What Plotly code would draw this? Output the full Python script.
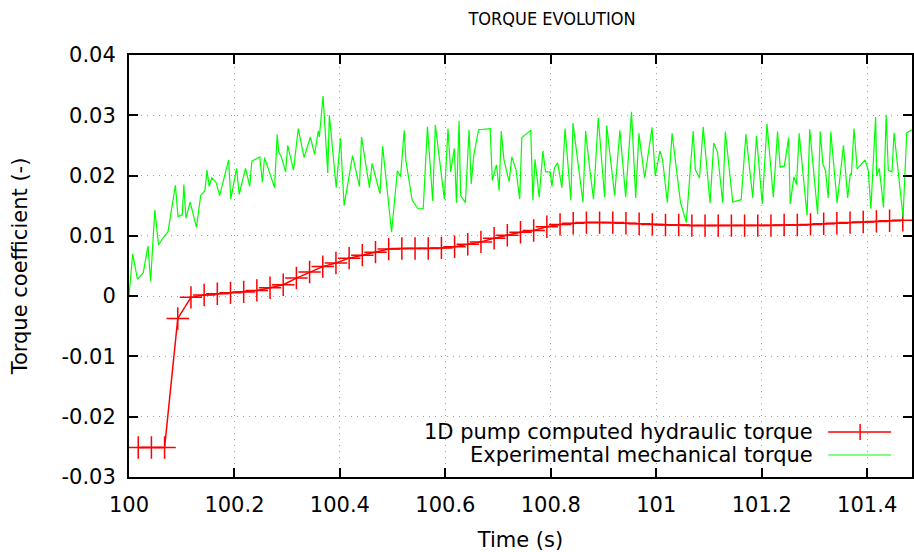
import plotly.graph_objects as go

# ---- data ----
red_t0 = 100.0175
red_step = 0.025
red_vals = [
    -0.0251, -0.0251, -0.0251, -0.0037, -0.0002, 0.0002, 0.0004, 0.00055, 0.0007, 0.00095,
    0.0014, 0.0019, 0.0030, 0.0040, 0.0049, 0.0055, 0.0063, 0.0068, 0.0073, 0.0078,
    0.0079, 0.0079, 0.0079, 0.0080, 0.0082, 0.0086, 0.0090, 0.0096, 0.0101, 0.0106,
    0.0109, 0.0115, 0.0119, 0.0121, 0.0122, 0.0122, 0.0122, 0.0121, 0.0120, 0.0119,
    0.0118, 0.0118, 0.0117, 0.0117, 0.0117, 0.0117, 0.0117, 0.0117, 0.0117, 0.0118,
    0.0118, 0.0119, 0.0120, 0.0121, 0.0122, 0.0123, 0.0124, 0.0125, 0.0126,
]
red_time = [round(red_t0 + red_step * k, 4) for k in range(len(red_vals))]

green_time = [
    100.000, 100.007, 100.016, 100.027, 100.036, 100.041, 100.049, 100.056, 100.064, 100.074,
    100.088, 100.093, 100.101, 100.104, 100.108, 100.116, 100.128, 100.136, 100.144, 100.148,
    100.152, 100.157, 100.165, 100.172, 100.189, 100.193, 100.204, 100.209, 100.221, 100.229,
    100.233, 100.248, 100.253, 100.257, 100.276, 100.281, 100.284, 100.289, 100.297, 100.301,
    100.312, 100.321, 100.332, 100.344, 100.352, 100.359, 100.361, 100.368, 100.377, 100.380,
    100.393, 100.401, 100.408, 100.424, 100.437, 100.441, 100.456, 100.461, 100.476, 100.481,
    100.498, 100.509, 100.515, 100.522, 100.525, 100.537, 100.548, 100.558, 100.566, 100.576,
    100.581, 100.598, 100.605, 100.610, 100.617, 100.621, 100.626, 100.629, 100.638, 100.645,
    100.649, 100.654, 100.663, 100.685, 100.689, 100.697, 100.702, 100.706, 100.711, 100.721,
    100.726, 100.734, 100.741, 100.745, 100.762, 100.766, 100.770, 100.778, 100.785, 100.790,
    100.799, 100.802, 100.807, 100.813, 100.821, 100.827, 100.838, 100.842, 100.861, 100.866,
    100.874, 100.881, 100.890, 100.902, 100.906, 100.921, 100.931, 100.942, 100.953, 100.961,
    100.967, 100.978, 100.992, 100.998, 101.007, 101.012, 101.021, 101.030, 101.046, 101.057,
    101.070, 101.074, 101.082, 101.089, 101.102, 101.109, 101.116, 101.126, 101.131, 101.145,
    101.161, 101.170, 101.183, 101.190, 101.201, 101.210, 101.222, 101.230, 101.235, 101.243,
    101.251, 101.254, 101.261, 101.266, 101.271, 101.286, 101.291, 101.306, 101.311, 101.316,
    101.321, 101.326, 101.331, 101.343, 101.355, 101.363, 101.368, 101.370, 101.375, 101.381,
    101.396, 101.402, 101.407, 101.416, 101.418, 101.423, 101.431, 101.436, 101.440, 101.447,
    101.451, 101.468, 101.475, 101.485,
]
green_vals = [
    0.0000, 0.0070, 0.0028, 0.0039, 0.0083, 0.0025, 0.0143, 0.0085, 0.0096, 0.0107,
    0.0184, 0.0132, 0.0135, 0.0185, 0.0129, 0.0156, 0.0114, 0.0167, 0.0175, 0.0209,
    0.0182, 0.0196, 0.0189, 0.0167, 0.0226, 0.0161, 0.0212, 0.0169, 0.0212, 0.0182,
    0.0224, 0.0231, 0.0189, 0.0230, 0.0180, 0.0268, 0.0239, 0.0231, 0.0206, 0.0250,
    0.0209, 0.0278, 0.0230, 0.0264, 0.0235, 0.0274, 0.0264, 0.0332, 0.0204, 0.0300,
    0.0180, 0.0262, 0.0150, 0.0233, 0.0182, 0.0264, 0.0180, 0.0220, 0.0170, 0.0249,
    0.0106, 0.0208, 0.0198, 0.0275, 0.0226, 0.0159, 0.0145, 0.0145, 0.0281, 0.0158,
    0.0284, 0.0161, 0.0278, 0.0206, 0.0245, 0.0155, 0.0291, 0.0167, 0.0155, 0.0276,
    0.0186, 0.0234, 0.0276, 0.0278, 0.0192, 0.0218, 0.0175, 0.0274, 0.0227, 0.0190,
    0.0231, 0.0210, 0.0161, 0.0263, 0.0275, 0.0159, 0.0227, 0.0164, 0.0241, 0.0206,
    0.0206, 0.0182, 0.0213, 0.0221, 0.0180, 0.0278, 0.0159, 0.0287, 0.0156, 0.0274,
    0.0209, 0.0161, 0.0296, 0.0164, 0.0283, 0.0167, 0.0275, 0.0164, 0.0306, 0.0163,
    0.0270, 0.0196, 0.0280, 0.0199, 0.0241, 0.0226, 0.0155, 0.0270, 0.0155, 0.0122,
    0.0274, 0.0210, 0.0196, 0.0281, 0.0154, 0.0254, 0.0239, 0.0155, 0.0273, 0.0156,
    0.0160, 0.0269, 0.0163, 0.0266, 0.0153, 0.0286, 0.0164, 0.0273, 0.0214, 0.0216,
    0.0263, 0.0153, 0.0198, 0.0185, 0.0270, 0.0134, 0.0277, 0.0136, 0.0273, 0.0219,
    0.0208, 0.0163, 0.0273, 0.0154, 0.0250, 0.0163, 0.0203, 0.0201, 0.0278, 0.0211,
    0.0226, 0.0209, 0.0145, 0.0297, 0.0199, 0.0212, 0.0147, 0.0301, 0.0209, 0.0206,
    0.0271, 0.0131, 0.0271, 0.0276,
]

x_ticks = [100, 100.2, 100.4, 100.6, 100.8, 101, 101.2, 101.4]
x_tick_text = ["100", "100.2", "100.4", "100.6", "100.8", "101", "101.2", "101.4"]
y_ticks = [0.04, 0.03, 0.02, 0.01, 0, -0.01, -0.02, -0.03]
y_tick_text = ["0.04", "0.03", "0.02", "0.01", "0", "-0.01", "-0.02", "-0.03"]

name_red = "1D pump computed hydraulic torque"
name_green = "Experimental mechanical torque"

W, H = 914, 552
ML, MR, MT, MB = 129, 0, 55, 75
FONT = "DejaVu Sans"
FS = 21

fig = go.Figure()
fig.add_trace(go.Scatter(
    x=red_time, y=red_vals, mode="lines+markers", name=name_red,
    line=dict(color="#ff0000", width=1.5),
    marker=dict(symbol="cross-thin", size=16, line=dict(color="#ff0000", width=1.5)),
))
fig.add_trace(go.Scatter(
    x=green_time, y=green_vals, mode="lines", name=name_green,
    line=dict(color="#00ff00", width=1.2),
))

axis_common = dict(
    showline=True, linecolor="black", linewidth=2, mirror="ticks",
    ticks="inside", ticklen=9, tickwidth=1.5, tickcolor="black",
    showgrid=True, gridcolor="#a0a0a0", griddash="1px,5px", gridwidth=1.2,
    zeroline=False, tickfont=dict(family=FONT, size=FS, color="black"),
)
fig.update_xaxes(range=[100, 101.485], tickvals=x_ticks, ticktext=x_tick_text,
                 ticklabelstandoff=8,
                 title=dict(text="Time (s)", font=dict(family=FONT, size=FS, color="black"), standoff=18),
                 **axis_common)
fig.update_yaxes(range=[-0.03, 0.04], tickvals=y_ticks, ticktext=y_tick_text,
                 ticklabelstandoff=7,
                 title=dict(text="Torque coefficient (-)", font=dict(family=FONT, size=FS, color="black"), standoff=28),
                 **axis_common)

# gnuplot-style key (text right-aligned, sample to the right)
def px_x(p):
    return (p - ML) / (W - ML - MR)

def px_y(p):
    return 1 - (p - MT) / (H - MT - MB)

annotations = []
shapes = []
for txt, ypix, col, plus in [(name_red, 432, "#ff0000", True), (name_green, 455, "#00ff00", False)]:
    annotations.append(dict(
        text=txt, xref="paper", yref="paper", x=px_x(817), y=px_y(ypix),
        xanchor="right", yanchor="middle", showarrow=False,
        font=dict(family=FONT, size=FS, color="black"),
    ))
    shapes.append(dict(type="line", xref="paper", yref="paper",
                       x0=px_x(830), x1=px_x(893), y0=px_y(ypix), y1=px_y(ypix),
                       line=dict(color=col, width=1.5 if plus else 1.2)))
    if plus:
        shapes.append(dict(type="line", xref="paper", yref="paper",
                           x0=px_x(862), x1=px_x(862), y0=px_y(ypix - 8), y1=px_y(ypix + 8),
                           line=dict(color=col, width=1.5)))

fig.update_layout(
    width=W, height=H,
    margin=dict(l=ML, r=MR, t=MT, b=MB),
    paper_bgcolor="white", plot_bgcolor="white",
    showlegend=False,
    title=dict(text="TORQUE EVOLUTION", x=552 / W, xanchor="center",
               y=1 - 18.5 / H, yanchor="middle",
               font=dict(family="DejaVu Sans Condensed, DejaVu Sans", size=18, color="black")),
    annotations=annotations, shapes=shapes,
)

fig.write_html("out.html", config={"displayModeBar": False},
               post_script="document.body.style.margin='0';")
